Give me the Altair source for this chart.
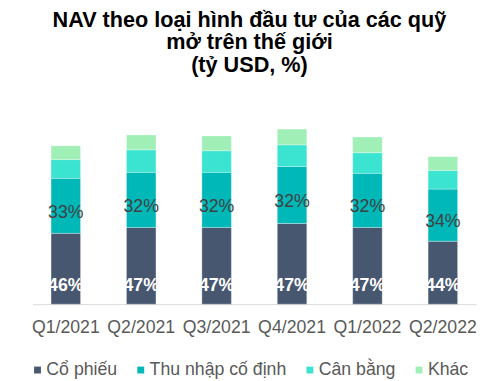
import altair as alt
import pandas as pd

quarters = ["Q1/2021", "Q2/2021", "Q3/2021", "Q4/2021", "Q1/2022", "Q2/2022"]
series = ["Cổ phiếu", "Thu nhập cố định", "Cân bằng", "Khác"]
# NAV (tỷ USD)
co_phieu = [28800, 31200, 31200, 32800, 31200, 25600]
thu_nhap = [22400, 22400, 22400, 23200, 22000, 21200]
can_bang = [7600, 9200, 8800, 8800, 8400, 7600]
khac = [5600, 6000, 6000, 6400, 6400, 5600]
cp_pct = ["46%", "47%", "47%", "47%", "47%", "44%"]
tn_pct = ["33%", "32%", "32%", "32%", "32%", "34%"]
colors = ["#485770", "#00b8b8", "#3be3d1", "#9fefb6"]

FONT = "Liberation Sans"

rows = []
for i, q in enumerate(quarters):
    for j, (s, vals) in enumerate(zip(series, [co_phieu, thu_nhap, can_bang, khac])):
        rows.append({"quarter": q, "series": s, "value": vals[i], "idx": j})
long = pd.DataFrame(rows)

lab = pd.DataFrame({
    "quarter": quarters,
    "cp_pct": cp_pct,
    "tn_pct": tn_pct,
    "tn_mid": [c + t / 2 for c, t in zip(co_phieu, thu_nhap)],
})

xenc = alt.X(
    "quarter:N",
    sort=quarters,
    scale=alt.Scale(paddingInner=0.609, paddingOuter=0.245),
    axis=alt.Axis(
        title=None, labelAngle=0, ticks=False, labelFontSize=18, labelFont=FONT,
        labelColor="#595959", labelPadding=15, domainColor="#d9d9d9", domainWidth=1,
    ),
)
yscale = alt.Scale(domain=[0, 80000], nice=False)

bars = alt.Chart(long).mark_bar(stroke="#ffffff", strokeWidth=0.6, strokeOpacity=0.5).encode(
    x=xenc,
    y=alt.Y("value:Q", stack="zero", scale=yscale, axis=None),
    color=alt.Color(
        "series:N",
        scale=alt.Scale(domain=series, range=colors),
        legend=alt.Legend(
            title=None, orient="none", direction="horizontal", columns=4,
            legendX=-4, legendY=258, symbolType="square", symbolSize=49,
            symbolStrokeWidth=0, labelFontSize=18, labelFont=FONT, labelColor="#595959",
            labelOffset=0, columnPadding=14, padding=0,
        ),
    ),
    order=alt.Order("idx:Q"),
)

cp_text = alt.Chart(lab).mark_text(
    color="white", fontWeight="bold", fontSize=18, font=FONT, dy=-18, baseline="middle"
).encode(x=alt.X("quarter:N", sort=quarters), y=alt.datum(0), text="cp_pct:N")

tn_text = alt.Chart(lab).mark_text(
    color="#404040", fontSize=18, font=FONT, dy=7, baseline="middle"
).encode(x=alt.X("quarter:N", sort=quarters), y=alt.Y("tn_mid:Q", scale=yscale), text="tn_pct:N")

chart = alt.layer(bars, cp_text, tn_text).properties(
    width=451,
    height=200,
    autosize="none",
    padding={"left": 25, "top": 98, "right": 5, "bottom": 75},
    title=alt.Title(
        ["NAV theo loại hình đầu tư của các quỹ", "mở trên thế giới", "(tỷ USD, %)"],
        fontSize=22, font=FONT, fontWeight="bold", color="#000000",
        anchor="middle", offset=31, lineHeight=23, dx=-5,
    ),
).configure_view(stroke=None)

chart.save("out.html", embed_options={"renderer": "svg", "actions": False})
